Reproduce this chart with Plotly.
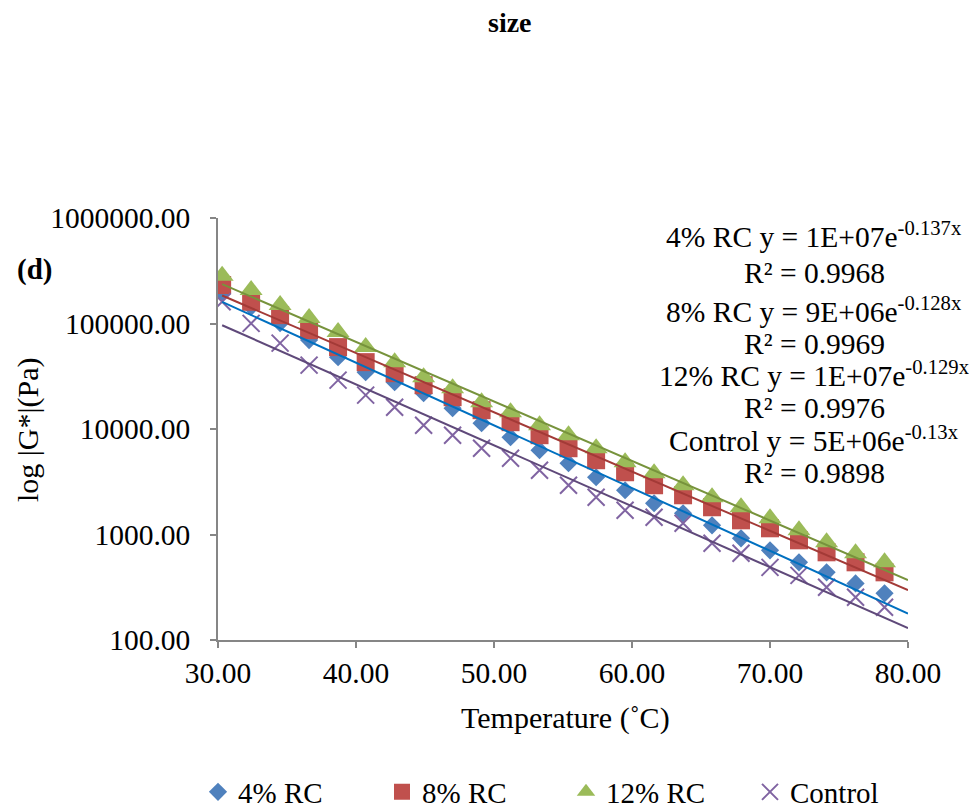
import numpy as np
import plotly.graph_objects as go

# ---------------- data ----------------
temperature = [30.3, 32.4, 34.5, 36.6, 38.7, 40.7, 42.8, 44.9, 47.0, 49.1, 51.2, 53.3,
               55.4, 57.4, 59.5, 61.6, 63.7, 65.8, 67.9, 70.0, 72.1, 74.1, 76.2, 78.3]

g_4rc = [198600, 144000, 100900, 69570, 47990, 34580, 27800, 21870, 15750, 11350, 8360, 6294,
         4737, 3488, 2627, 1977, 1589, 1223, 920, 708, 545, 438, 344, 277]
g_8rc = [231300, 160700, 120100, 86560, 59730, 43030, 33830, 26030, 20030, 15080, 11600, 8735,
         6574, 5058, 3892, 2930, 2354, 1812, 1363, 1145, 881, 678, 545, 438]
g_12rc = [283600, 207500, 149500, 112500, 82850, 59730, 43030, 31000, 24390, 17960, 14430, 10870,
          8735, 6574, 4842, 3807, 2930, 2254, 1812, 1424, 1096, 843, 663, 545]
g_control = [160700, 100200, 65160, 40300, 29040, 20930, 16100, 10870, 8735, 6574, 5284, 4066,
             2930, 2254, 1697, 1456, 1277, 825, 663, 488, 410, 316, 254, 204]

series_names = ["4% RC", "8% RC", "12% RC", "Control"]
series_values = [g_4rc, g_8rc, g_12rc, g_control]

equation_lines = [
    "4% RC y = 1E+07e<sup>-0.137x</sup>", "R² = 0.9968",
    "8% RC y = 9E+06e<sup>-0.128x</sup>", "R² = 0.9969",
    "12% RC y = 1E+07e<sup>-0.129x</sup>", "R² = 0.9976",
    "Control y = 5E+06e<sup>-0.13x</sup>", "R² = 0.9898",
]

x_tick_vals = [30, 40, 50, 60, 70, 80]
x_tick_text = ["30.00", "40.00", "50.00", "60.00", "70.00", "80.00"]
y_tick_vals = [100, 1000, 10000, 100000, 1000000]
y_tick_text = ["100.00", "1000.00", "10000.00", "100000.00", "1000000.00"]

# ---------------- styling ----------------
FONT = "Liberation Serif, Times New Roman, serif"
marker_colors = ["#4F81BD", "#C0504D", "#9BBB59", "#8064A2"]
marker_symbols = ["diamond", "square", "triangle-up", "x-thin"]
marker_sizes = [14, 18, 20, 17]
trend_colors = ["#0070C0", "#A33A37", "#77933C", "#5F497A"]

W, H = 969, 811
ML, MR, MT, MB = 218, 61, 218, 171
PW, PH = W - ML - MR, H - MT - MB


def px_x(x):
    return (x - ML) / PW


def px_y(y):
    return (H - MB - y) / PH


fig = go.Figure()

for name, vals, col, sym, size in zip(series_names, series_values, marker_colors,
                                      marker_symbols, marker_sizes):
    if sym == "x-thin":
        marker = dict(symbol=sym, size=size, color=col, line=dict(color=col, width=2))
    else:
        marker = dict(symbol=sym, size=size, color=col, line=dict(width=0))
    fig.add_trace(go.Scatter(x=temperature, y=vals, mode="markers", name=name,
                             marker=marker))

# exponential trendlines (least squares on log values, as Excel does)
x_end = x_tick_vals[-1]
for vals, col in zip(series_values, trend_colors):
    b, a = np.polyfit(np.array(temperature), np.log(np.array(vals, dtype=float)), 1)
    xs = np.array([temperature[0], x_end])
    ys = np.exp(a + b * xs)
    fig.add_trace(go.Scatter(x=xs, y=ys, mode="lines", showlegend=False,
                             line=dict(color=col, width=2), hoverinfo="skip"))

TICK_FONT = dict(family=FONT, size=29.5, color="black")
axis_common = dict(showline=True, linecolor="#868686", linewidth=1.5, ticks="outside",
                   ticklen=6, tickcolor="#868686", tickwidth=1.5, showgrid=False,
                   zeroline=False, tickfont=TICK_FONT)

fig.update_layout(
    width=W, height=H,
    margin=dict(l=ML, r=MR, t=MT, b=MB, autoexpand=False),
    paper_bgcolor="white", plot_bgcolor="white",
    font=dict(family=FONT, size=29, color="black"),
    xaxis=dict(range=[30, 80], tickvals=x_tick_vals, ticktext=x_tick_text,
               ticklabelstandoff=0, **axis_common),
    yaxis=dict(type="log", range=[2, 6], tickvals=y_tick_vals, ticktext=y_tick_text,
               ticklabelstandoff=14, **axis_common),
    legend=dict(orientation="h", x=px_x(198), xanchor="left", y=px_y(792), yanchor="middle",
                font=dict(family=FONT, size=29, color="black"), entrywidth=139,
                entrywidthmode="pixels", bgcolor="rgba(0,0,0,0)", itemclick=False),
    showlegend=True,
)

annotations = [
    dict(text="<b>size</b>", x=px_x(510), y=px_y(22), font=dict(size=28)),
    dict(text="<b>(d)</b>", x=px_x(35), y=px_y(269), font=dict(size=29)),
    dict(text="Temperature (˚C)", x=px_x(565), y=px_y(718), font=dict(size=30)),
    dict(text="log |G*|(Pa)", x=px_x(28), y=px_y(430), textangle=-90, font=dict(size=30)),
]
eq_y_px = [235, 273, 310, 344, 374, 408, 439, 473]
for txt, ypx in zip(equation_lines, eq_y_px):
    annotations.append(dict(text=txt, x=px_x(814), y=px_y(ypx), font=dict(size=29.5)))

for ann in annotations:
    ann.update(xref="paper", yref="paper", showarrow=False, xanchor="center",
               yanchor="middle")
    ann["font"] = dict(family=FONT, color="black", **ann["font"])
fig.update_layout(annotations=annotations)

fig.write_html("out.html")
